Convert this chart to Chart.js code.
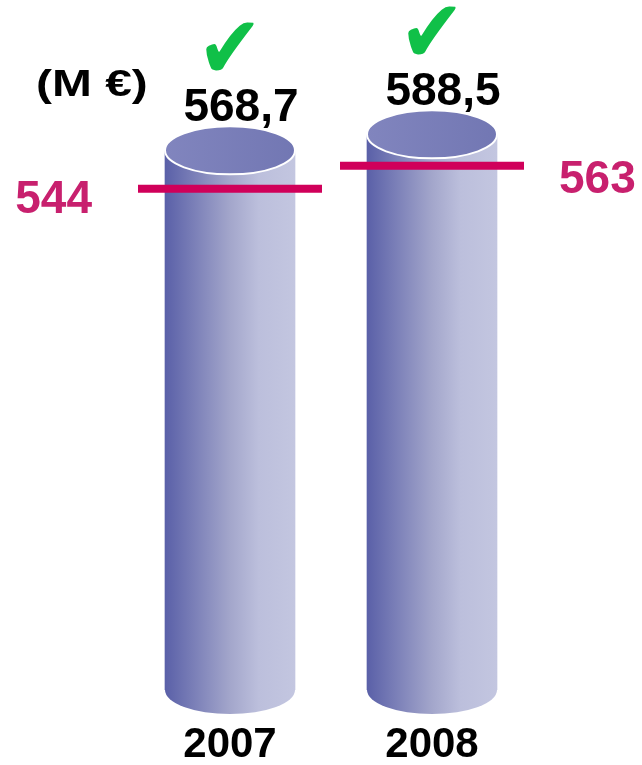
<!DOCTYPE html>
<html>
<head>
<meta charset="utf-8">
<script src="https://cdn.jsdelivr.net/npm/chart.js@4.4.1/dist/chart.umd.min.js"></script>
<style>
  html, body { margin: 0; padding: 0; background: #fff; }
  #wrap { width: 642px; height: 765px; position: relative; }
</style>
</head>
<body>
<div id="wrap"><canvas id="revenue-chart"></canvas></div>
<script>
// Data
const years = ['2007', '2008'];
const revenue = [568.7, 588.5];
const targets = [544, 563];
const unitLabel = '(M €)';

const fmt = v => v.toLocaleString('fr-FR', { minimumFractionDigits: 1, maximumFractionDigits: 1 });

const BAR_W = 130;
const RY = 24;

function bodyGradient(ctx, cx) {
    const g = ctx.createLinearGradient(cx - BAR_W / 2, 0, cx + BAR_W / 2, 0);
    g.addColorStop(0, '#5a60a8');
    g.addColorStop(0.5, '#a3a6cb');
    g.addColorStop(0.72, '#bcbfdc');
    g.addColorStop(1, '#c3c6e0');
    return g;
}

// cylinder caps + annotations
const cylinderPlugin = {
    id: 'cylinder',
    beforeDatasetDraw(chart, args) {
        if (args.index !== 0) return;
        const ctx = chart.ctx;
        chart.getDatasetMeta(0).data.forEach(bar => {
            const { x, base, width } = bar.getProps(['x', 'base', 'width'], true);
            ctx.save();
            ctx.beginPath();
            ctx.ellipse(x, base, width / 2, RY, 0, 0, Math.PI);
            ctx.fillStyle = bodyGradient(ctx, x);
            ctx.fill();
            ctx.restore();
        });
    },
    afterDatasetDraw(chart, args) {
        if (args.index !== 0) return;
        const ctx = chart.ctx;
        chart.getDatasetMeta(0).data.forEach(bar => {
            const { x, y, width } = bar.getProps(['x', 'y', 'width'], true);
            ctx.save();
            ctx.beginPath();
            ctx.ellipse(x, y, width / 2, RY, 0, 0, Math.PI * 2);
            const g = ctx.createLinearGradient(x - width / 2, 0, x + width / 2, 0);
            g.addColorStop(0, '#8185be');
            g.addColorStop(1, '#7277b3');
            ctx.fillStyle = g;
            ctx.fill();
            ctx.lineWidth = 2;
            ctx.strokeStyle = '#ffffff';
            ctx.stroke();
            ctx.restore();
        });
    },
    afterDraw(chart) {
        const ctx = chart.ctx;
        const bars = chart.getDatasetMeta(0).data;
        const yT = chart.scales.yT;
        ctx.save();
        // values + check marks
        bars.forEach((bar, i) => {
            ctx.fillStyle = '#000';
            ctx.font = 'bold 46px "Liberation Sans", Arial, sans-serif';
            ctx.textAlign = 'center';
            ctx.textBaseline = 'alphabetic';
            ctx.fillText(fmt(revenue[i]), bar.x + 11, bar.y - 29);
            ctx.save();
            ctx.fillStyle = '#10c048';
            ctx.font = '78px "DejaVu Sans", sans-serif';
            ctx.textBaseline = 'middle';
            ctx.translate(bar.x, bar.y - 95);
            ctx.scale(1, 1.13);
            ctx.fillText('✔', 0, 0);
            ctx.restore();
        });
        // target labels
        ctx.fillStyle = '#c8206e';
        ctx.font = 'bold 46px "Liberation Sans", Arial, sans-serif';
        ctx.textBaseline = 'alphabetic';
        ctx.textAlign = 'right';
        ctx.fillText(String(targets[0]), 92, yT.getPixelForValue(targets[0]) + 24);
        ctx.textAlign = 'left';
        ctx.fillText(String(targets[1]), 559, yT.getPixelForValue(targets[1]) + 27);
        // unit
        ctx.fillStyle = '#000';
        ctx.translate(36, 96);
        ctx.scale(1.33, 1);
        ctx.font = 'bold 36px "Liberation Sans", Arial, sans-serif';
        ctx.fillText(unitLabel, 0, 0);
        ctx.restore();
    }
};

const ctx = document.getElementById('revenue-chart').getContext('2d');
const chart = new Chart(ctx, {
    type: 'bar',
    data: {
        labels: years,
        datasets: [
            {
                label: 'Chiffre d\'affaires',
                data: revenue,
                order: 2,
                base: -100,
                barThickness: BAR_W,
                borderWidth: 0,
                backgroundColor: c => {
                    const xs = c.chart.scales.x;
                    if (!c.chart.chartArea || !xs) return '#9094c6';
                    return bodyGradient(c.chart.ctx, xs.getPixelForValue(c.dataIndex));
                }
            },
            {
                type: 'line',
                label: 'Objectif',
                data: targets,
                yAxisID: 'yT',
                order: 1,
                showLine: false,
                pointStyle: 'line',
                pointRadius: 92,
                pointHoverRadius: 92,
                pointBorderWidth: 8,
                pointHoverBorderWidth: 8,
                borderColor: '#d0005a',
                backgroundColor: '#d0005a'
            }
        ]
    },
    options: {
        responsive: true,
        maintainAspectRatio: false,
        animation: false,
        layout: { autoPadding: false, padding: { left: 129, right: 109, top: 0, bottom: 0 } },
        plugins: {
            legend: { display: false },
            tooltip: { enabled: false }
        },
        scales: {
            x: {
                offset: true,
                grid: { display: false, drawTicks: false },
                border: { display: false },
                ticks: {
                    padding: 30,
                    color: '#000',
                    font: { family: '"Liberation Sans", Arial, sans-serif', size: 42, weight: 'bold' }
                },
                afterFit: scale => { scale.height = 75; }
            },
            y: { display: false, min: -100, max: 755 },
            yT: { display: false, min: 130, max: 700 }
        }
    },
    plugins: [cylinderPlugin]
});
</script>
</body>
</html>
